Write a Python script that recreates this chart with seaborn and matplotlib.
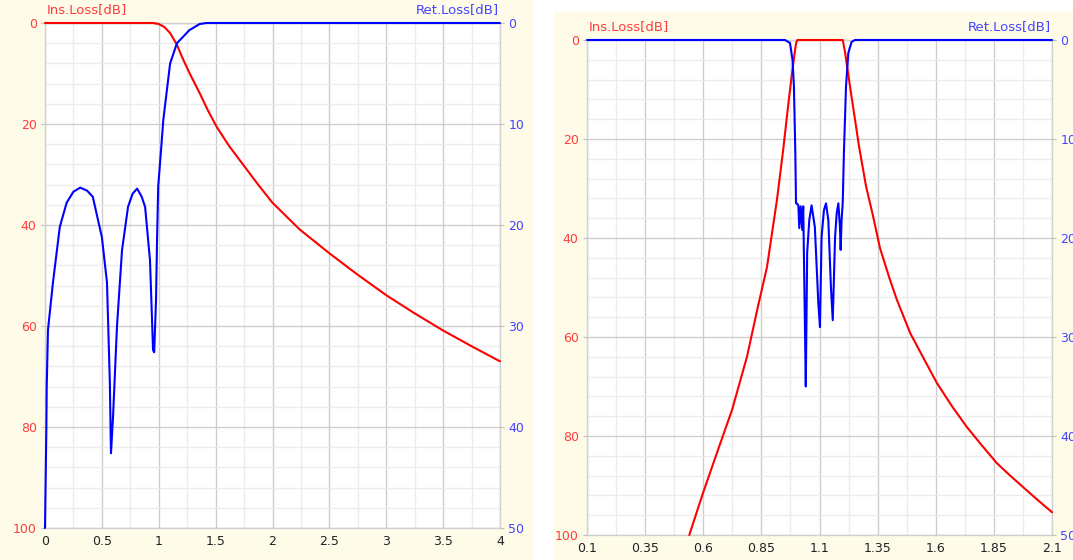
import matplotlib
matplotlib.use("Agg")
import matplotlib.pyplot as plt
from matplotlib.patches import Rectangle
from matplotlib.ticker import MultipleLocator
import seaborn as sns

# Low-pass filter response (left panel)
lp_il_freq = [0, 0.5, 0.95, 1.0, 1.05, 1.1, 1.16, 1.2, 1.27, 1.36, 1.43, 1.51, 1.62, 1.74,
              1.87, 2.0, 2.24, 2.5, 2.74, 3.0, 3.25, 3.5, 3.75, 4.0]
lp_il_db = [0, 0, 0, 0.2, 0.8, 2.0, 4.3, 6.5, 9.9, 13.9, 17.2, 20.6, 24.4, 28.0,
            31.9, 35.6, 40.9, 45.6, 49.7, 53.9, 57.5, 60.9, 64.0, 67.0]

lp_rl_freq = [0, 0.012, 0.015, 0.026, 0.07, 0.13, 0.19, 0.25, 0.31, 0.37, 0.42, 0.5, 0.545,
              0.57, 0.58, 0.598, 0.633, 0.677, 0.73, 0.77, 0.81, 0.85, 0.88, 0.923, 0.95,
              0.96, 0.976, 0.985, 0.995, 1.02, 1.04, 1.1, 1.16, 1.27, 1.36, 1.42, 4.0]
lp_rl_db = [50, 40, 36.1, 30.4, 25.7, 20.2, 17.8, 16.7, 16.3, 16.6, 17.2, 21.2, 25.7,
            35.6, 42.6, 39, 30, 22.5, 18.2, 16.9, 16.4, 17.2, 18.2, 23.5, 32.4,
            32.6, 27.4, 21.5, 16.2, 12.6, 9.6, 4.0, 2.0, 0.7, 0.1, 0, 0]

# Band-pass filter response (right panel)
bp_il_freq = [0.540, 0.599, 0.659, 0.724, 0.788, 0.835, 0.874, 0.917, 0.943, 0.968,
              0.985, 0.995, 1.0, 1.005, 1.2, 1.21, 1.22, 1.24, 1.27, 1.30, 1.33, 1.36, 1.40,
              1.433, 1.49, 1.55, 1.605, 1.67, 1.734, 1.8, 1.863, 1.92, 1.975, 2.04, 2.1]
bp_il_db = [100.0, 91.5, 83.4, 74.7, 64.0, 53.9, 45.9, 32.3, 22.5, 12.1,
            5.5, 2.0, 0.5, 0, 0, 2.5, 5.8, 12.1, 21.5, 29.5, 35.5, 42.0, 48.0,
            52.5, 59.2, 64.5, 69.3, 74.0, 78.2, 82.0, 85.5, 88.0, 90.3, 93.0, 95.4]

bp_rl_freq = [0.1, 0.952, 0.973, 0.984, 0.990, 0.996, 0.999, 1.002, 1.009, 1.013, 1.019,
              1.026, 1.030, 1.037, 1.041, 1.047, 1.056, 1.066, 1.080, 1.095, 1.102, 1.109,
              1.119, 1.128, 1.138, 1.149, 1.157, 1.167, 1.174, 1.181, 1.188, 1.191, 1.195,
              1.200, 1.205, 1.214, 1.224, 1.238, 1.252, 2.1]
bp_rl_db = [0, 0, 0.3, 2.0, 4.7, 11.4, 16.5, 16.5, 16.7, 19.0, 16.8,
            19.2, 16.8, 28.3, 35.0, 21.5, 18.2, 16.7, 18.9, 26.6, 29.0, 19.9,
            17.2, 16.5, 18.2, 24.9, 28.3, 19.9, 17.5, 16.5, 18.9, 21.2, 18.2,
            16.4, 11.4, 4.7, 1.3, 0.2, 0, 0]

sns.set_style("white")
plt.rcParams["font.family"] = ["DejaVu Sans"]

RED = "#ff0000"
BLUE = "#0000ff"
RED_TXT = "#ff3c3c"
BLUE_TXT = "#4444ff"
CREAM = "#fefce9"

fig = plt.figure(figsize=(10.73, 5.6), dpi=100)
fig.patch.set_facecolor("white")
fig.patches.append(Rectangle((0, 0), 533 / 1073, 1, transform=fig.transFigure,
                             facecolor=CREAM, edgecolor="none", zorder=-10))
fig.patches.append(Rectangle((554 / 1073, 0), 1 - 554 / 1073, 548 / 560,
                             transform=fig.transFigure, facecolor=CREAM,
                             edgecolor="none", zorder=-10))

ax_l = fig.add_axes([45 / 1073, 1 - 528 / 560, 455 / 1073, 505 / 560])
ax_r = fig.add_axes([587 / 1073, 1 - 535 / 560, 465 / 1073, 495 / 560])


def style_panel(ax, il_f, il_db, rl_f, rl_db, xlim, xmaj, xmin_):
    ax.set_facecolor("white")
    ax.set_xlim(*xlim)
    ax.set_ylim(100, 0)
    ax.xaxis.set_major_locator(MultipleLocator(xmaj))
    ax.xaxis.set_minor_locator(MultipleLocator(xmin_))
    ax.yaxis.set_major_locator(MultipleLocator(20))
    ax.yaxis.set_minor_locator(MultipleLocator(4))
    ax.grid(which="major", color="#cdcdcd", lw=1.0)
    ax.grid(which="minor", color="#ececec", lw=1.0)
    ax.set_axisbelow(True)
    for s in ax.spines.values():
        s.set_color("#d0d0d0")
        s.set_linewidth(1.0)

    sns.lineplot(x=il_f, y=il_db, ax=ax, color=RED, lw=1.5, sort=False, estimator=None)

    ax2 = ax.twinx()
    ax2.set_ylim(50, 0)
    ax2.yaxis.set_major_locator(MultipleLocator(10))
    ax2.yaxis.set_minor_locator(MultipleLocator(2))
    sns.lineplot(x=rl_f, y=rl_db, ax=ax2, color=BLUE, lw=1.5, sort=False, estimator=None)
    # the twin's frame would be painted over the red curve
    for s in ax2.spines.values():
        s.set_visible(False)

    # curves sitting at 0 dB run along the top edge, keep them whole
    for a in (ax, ax2):
        for ln in a.get_lines():
            ln.set_clip_on(False)
            ln.set_zorder(4)
        a.set_xlabel("")
        a.set_ylabel("")
    ax.tick_params(axis="x", which="major", length=3, color="#c0c0c0",
                   labelsize=9, labelcolor="#222222", pad=2)
    ax.tick_params(axis="y", which="major", length=3, color="#c0c0c0",
                   labelsize=9, labelcolor=RED_TXT, pad=3)
    ax.tick_params(which="minor", length=0)
    ax2.tick_params(axis="y", which="major", length=3, color="#c0c0c0",
                    labelsize=9, labelcolor=BLUE_TXT, pad=3)
    ax2.tick_params(which="minor", length=0)

    ax.annotate("Ins.Loss[dB]", xy=(0, 1), xycoords="axes fraction", xytext=(1, 5),
                textcoords="offset points", ha="left", va="bottom",
                color=RED_TXT, fontsize=9.5)
    ax.annotate("Ret.Loss[dB]", xy=(1, 1), xycoords="axes fraction", xytext=(-1, 5),
                textcoords="offset points", ha="right", va="bottom",
                color=BLUE_TXT, fontsize=9.5)
    return ax2


style_panel(ax_l, lp_il_freq, lp_il_db, lp_rl_freq, lp_rl_db, (0, 4), 0.5, 0.25)
ax_l.set_xticks([0, 0.5, 1, 1.5, 2, 2.5, 3, 3.5, 4])
ax_l.set_xticklabels(["0", "0.5", "1", "1.5", "2", "2.5", "3", "3.5", "4"])

style_panel(ax_r, bp_il_freq, bp_il_db, bp_rl_freq, bp_rl_db, (0.1, 2.1), 0.25, 0.125)
r_ticks = [0.1, 0.35, 0.6, 0.85, 1.1, 1.35, 1.6, 1.85, 2.1]
ax_r.set_xticks(r_ticks)
ax_r.set_xticklabels([f"{t:g}" for t in r_ticks])
ax_r.xaxis.set_minor_locator(MultipleLocator(0.125, offset=0.1))

fig.savefig("out.png", dpi=100, facecolor=fig.get_facecolor())
